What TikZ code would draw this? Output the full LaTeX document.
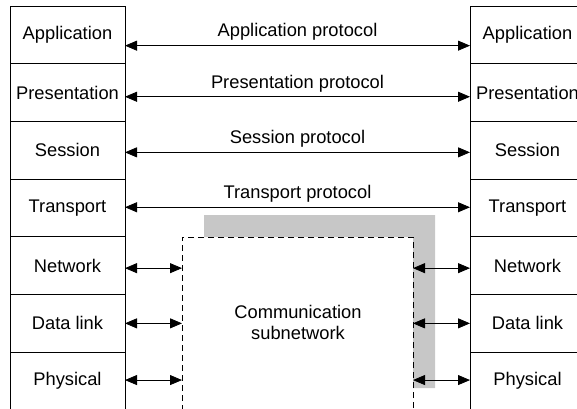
\documentclass[tikz,border=0pt]{standalone}
\usepackage{fontspec}
\setmainfont{Liberation Sans}
\usetikzlibrary{arrows.meta,positioning}

\begin{document}
\begin{tikzpicture}[
    x=1pt, y=-1pt,
    layer/.style={draw, line width=0.8pt, outer sep=0pt, inner sep=0pt, minimum width=115pt, minimum height=57.7pt, font=\fontsize{18.3}{20}\selectfont},
    arr/.style={{Triangle[length=12pt,width=10pt]}-{Triangle[length=12pt,width=10pt]}, line width=0.8pt},
    proto/.style={above=4.5pt, inner sep=0pt, font=\fontsize{18.3}{20}\selectfont}
]
    \clip (0,0) rectangle (577,408);

    % left stack
    \node[layer, anchor=north west] (lapp) at (10,6) {Application};
    \node[layer, below=0pt of lapp] (lpres) {Presentation};
    \node[layer, below=0pt of lpres] (lsess) {Session};
    \node[layer, below=0pt of lsess] (ltrans) {Transport};
    \node[layer, below=0pt of ltrans] (lnet) {Network};
    \node[layer, below=0pt of lnet] (ldl) {Data link};
    \node[layer, below=0pt of ldl] (lphys) {Physical};

    % right stack
    \node[layer, anchor=north west] (rapp) at (470,6) {Application};
    \node[layer, below=0pt of rapp] (rpres) {Presentation};
    \node[layer, below=0pt of rpres] (rsess) {Session};
    \node[layer, below=0pt of rsess] (rtrans) {Transport};
    \node[layer, below=0pt of rtrans] (rnet) {Network};
    \node[layer, below=0pt of rnet] (rdl) {Data link};
    \node[layer, below=0pt of rdl] (rphys) {Physical};

    % subnetwork with its shadow
    \fill[black!22] (204,215) -- (435,215) -- (435,388) -- (413,388) -- (413,237) -- (204,237) -- cycle;
    \node[draw, line width=0.8pt, dash pattern=on 6pt off 4pt, outer sep=0pt, minimum width=231pt, minimum height=190pt, anchor=north west] (subnet) at (182,237) {};
    \node[align=center, inner sep=0pt, font=\fontsize{18.3}{21}\selectfont] (sublabel) at (298,322) {Communication\\subnetwork};

    % peer protocols
    \draw[arr] ([yshift=-10.8pt]lapp.east) -- node[proto] {Application protocol} ([yshift=-10.8pt]rapp.west);
    \draw[arr] ([yshift=-4.2pt]lpres.east) -- node[proto] {Presentation protocol} ([yshift=-4.2pt]rpres.west);
    \draw[arr] ([yshift=-2.1pt]lsess.east) -- node[proto] {Session protocol} ([yshift=-2.1pt]rsess.west);
    \draw[arr] ([yshift=0.7pt]ltrans.east) -- node[proto] {Transport protocol} ([yshift=0.7pt]rtrans.west);

    % links into the subnetwork
    \draw[arr] ([yshift=-2.5pt]lnet.east) -- ([yshift=-2.5pt]lnet.east -| subnet.west);
    \draw[arr] (ldl.east) -- (ldl.east -| subnet.west);
    \draw[arr] ([yshift=1pt]lphys.east) -- ([yshift=1pt]lphys.east -| subnet.west);
    \draw[arr] ([yshift=-2.5pt]rnet.west -| subnet.east) -- ([yshift=-2.5pt]rnet.west);
    \draw[arr] (rdl.west -| subnet.east) -- (rdl.west);
    \draw[arr] ([yshift=1pt]rphys.west -| subnet.east) -- ([yshift=1pt]rphys.west);
\end{tikzpicture}
\end{document}
